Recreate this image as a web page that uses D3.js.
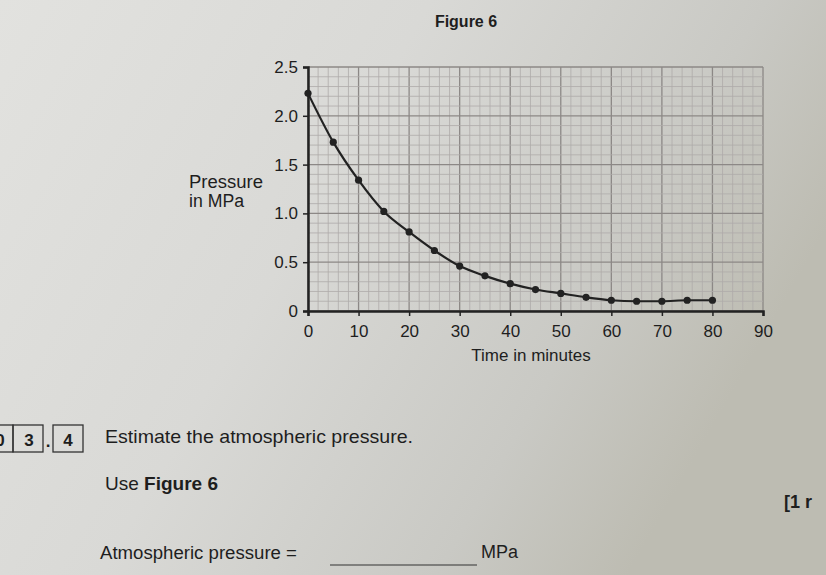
<!DOCTYPE html>
<html><head><meta charset="utf-8">
<script src="https://cdn.jsdelivr.net/npm/d3@7/dist/d3.min.js"></script>
<style>html,body{margin:0;padding:0;background:#d8d8d4;}svg{display:block;}</style>
</head><body>
<script>
const times = [0,5,10,15,20,25,30,35,40,45,50,55,60,65,70,75,80];
const pressures = [2.23,1.73,1.34,1.02,0.81,0.62,0.46,0.36,0.28,0.22,0.18,0.14,0.11,0.10,0.10,0.11,0.11];
const xTicks = [0,10,20,30,40,50,60,70,80,90];
const yTicks = [0,0.5,1.0,1.5,2.0,2.5];
const yTickLabels = ["0","0.5","1.0","1.5","2.0","2.5"];

const W=826,H=575;
const svg=d3.select("body").append("svg").attr("width",W).attr("height",H);
const defs=svg.append("defs");
const g1=defs.append("linearGradient").attr("id","bg").attr("x1","0").attr("y1","0").attr("x2","1").attr("y2","0.4");
g1.append("stop").attr("offset","0").attr("stop-color","#e2e2df");
g1.append("stop").attr("offset","0.45").attr("stop-color","#d9d9d6");
g1.append("stop").attr("offset","0.8").attr("stop-color","#c9c9c4");
g1.append("stop").attr("offset","1").attr("stop-color","#bdbcb2");
svg.append("rect").attr("width",W).attr("height",H).attr("fill","url(#bg)");

const font="'Liberation Sans', Arial, sans-serif";
const x=d3.scaleLinear().domain([0,90]).range([308,763]);
const y=d3.scaleLinear().domain([0,2.5]).range([311,67]);

// grid
const grid=svg.append("g");
grid.selectAll("line.vm").data(d3.range(0,90.001,2)).join("line")
  .attr("x1",d=>x(d)).attr("x2",d=>x(d)).attr("y1",y(0)).attr("y2",y(2.5))
  .attr("stroke",d=>d%10===0?"#8c8886":"#afaba9").attr("stroke-width",d=>d%10===0?1.3:0.8);
grid.selectAll("line.hm").data(d3.range(0,26,1).map(d=>d/10)).join("line")
  .attr("x1",x(0)).attr("x2",x(90)).attr("y1",d=>y(d)).attr("y2",d=>y(d))
  .attr("stroke",(d,i)=>i%5===0?"#8c8886":"#afaba9").attr("stroke-width",(d,i)=>i%5===0?1.3:0.8);

// axes
const xAxis=d3.axisBottom(x).tickValues(xTicks).tickSize(5).tickFormat(d3.format("d"));
const yAxis=d3.axisLeft(y).tickValues(yTicks).tickSize(5).tickFormat((d,i)=>yTickLabels[i]);
const gx=svg.append("g").attr("transform",`translate(0,${y(0)})`).call(xAxis);
const gy=svg.append("g").attr("transform",`translate(${x(0)},0)`).call(yAxis);
[gx,gy].forEach(g=>{
  g.select(".domain").attr("stroke","#222").attr("stroke-width",2.5);
  g.selectAll(".tick line").attr("stroke","#222").attr("stroke-width",1.5);
  g.selectAll(".tick text").attr("fill","#1e1e1e").style("font-family",font).style("font-size","17px");
});
gx.selectAll(".tick text").attr("dy","1.05em");
gy.selectAll(".tick text").attr("dx","-2px");

// curve
const line=d3.line().x((d,i)=>x(times[i])).y(d=>y(d)).curve(d3.curveMonotoneX);
svg.append("path").datum(pressures).attr("d",line).attr("fill","none").attr("stroke","#222").attr("stroke-width",2.2);
svg.selectAll("circle.pt").data(pressures).join("circle")
  .attr("cx",(d,i)=>x(times[i])).attr("cy",d=>y(d)).attr("r",3.6).attr("fill","#222");

// labels
const txt=(s,xx,yy,size,opts={})=>{
  const t=svg.append("text").attr("x",xx).attr("y",yy).text(s)
  .attr("fill","#1e1e1e").style("font-family",font).style("font-size",size+"px")
  .style("font-weight",opts.bold?"bold":"normal").attr("text-anchor",opts.anchor||"start");
  if(opts.len) t.attr("textLength",opts.len).attr("lengthAdjust","spacingAndGlyphs");
  return t;
};
txt("Figure 6",466,27,16,{bold:true,anchor:"middle"});
txt("Pressure",189,188,18,{len:74});
txt("in MPa",189,207,18,{len:55});
txt("Time in minutes",531,361,17,{anchor:"middle"});

// question section
const box=(bx,by,bw,bh)=>svg.append("rect").attr("x",bx).attr("y",by).attr("width",bw).attr("height",bh)
  .attr("fill","none").attr("stroke","#333").attr("stroke-width",1.3);
box(-12,425,25,27); box(13,425,30,27); box(53,425,30,27);
txt("0",0,446,17,{bold:true,anchor:"middle"});
txt("3",29,446,17,{bold:true,anchor:"middle"});
txt(".",48,447,17,{bold:true,anchor:"middle"});
txt("4",68,446,17,{bold:true,anchor:"middle"});
txt("Estimate the atmospheric pressure.",105,443,19,{len:308});
const u=txt("Use ",105,490,19);
u.append("tspan").text("Figure 6").style("font-weight","bold");
txt("[1 r",784,508,18,{bold:true});
txt("Atmospheric pressure =",100,559,18,{len:197});
svg.append("line").attr("x1",330).attr("x2",477).attr("y1",565).attr("y2",565).attr("stroke","#333").attr("stroke-width",1.2);
txt("MPa",481,558,18);
</script>
</body></html>
